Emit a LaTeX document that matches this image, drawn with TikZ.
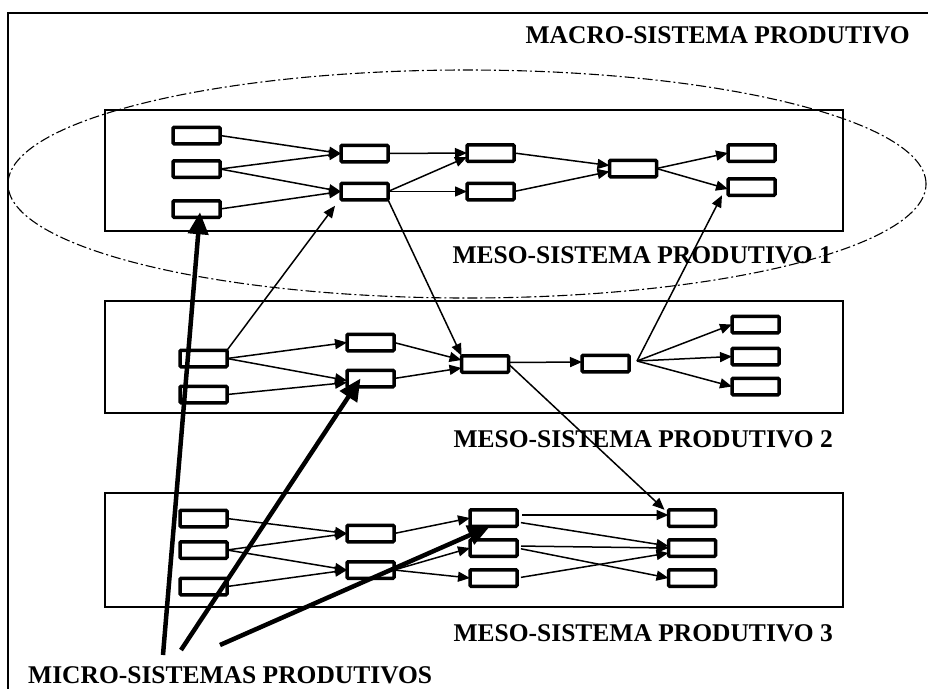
\documentclass[tikz,border=0pt]{standalone}
\usepackage{fontspec}
\setmainfont{Liberation Serif}
\usetikzlibrary{arrows.meta}
\begin{document}
\begin{tikzpicture}[x=1pt,y=-1pt,
  unit/.style={draw,line width=3.5pt,rounded corners=1pt,minimum width=47pt,
    minimum height=16.5pt,inner sep=0pt,outer sep=0pt},
  meso/.style={draw,line width=1.8pt},
  flow/.style={line width=1.5pt,-{Triangle[length=12pt,width=10pt]}},
  pointer/.style={line width=4.5pt,-{Triangle[length=22pt,width=20pt]}},
  title/.style={font=\fontsize{25.5}{30}\selectfont\bfseries,inner sep=0pt,anchor=base east},
  ]
\useasboundingbox (0,0) rectangle (928,688);

% outer frame of the macro system
\draw[line width=2pt] (8,690) -- (8,13) -- (930,13);

% meso-system panels
\draw[meso] (105,110) rectangle (843,231);
\draw[meso] (105,301) rectangle (843,413);
\draw[meso] (105,493) rectangle (843,607);

% dash-dot ellipse around meso-system 1
\draw[line width=1.1pt,dash pattern=on 10pt off 3pt on 2pt off 3pt]
  (467,184) ellipse [x radius=459pt, y radius=114pt];

% ---- meso-system 1 units
\node[unit] (A1) at (196.5,135.5) {};
\node[unit] (A2) at (196.5,169) {};
\node[unit] (A3) at (196.5,209) {};
\node[unit] (B1) at (364.5,153.5) {};
\node[unit] (B2) at (364.5,191.5) {};
\node[unit] (C1) at (490.5,153) {};
\node[unit] (C2) at (490.5,191.5) {};
\node[unit] (D)  at (633,168.5) {};
\node[unit] (E1) at (751.5,153) {};
\node[unit] (E2) at (751.5,187) {};

% ---- meso-system 2 units
\node[unit] (F1) at (203.5,358.5) {};
\node[unit] (F2) at (203.5,394.5) {};
\node[unit] (G1) at (370.5,342.5) {};
\node[unit] (G2) at (370.5,378.5) {};
\node[unit] (M)  at (485,364) {};
\node[unit] (P)  at (605.5,363.5) {};
\node[unit] (R1) at (755.5,324.5) {};
\node[unit] (R2) at (755.5,356.5) {};
\node[unit] (R3) at (755.5,386.5) {};
\coordinate (fork) at (637,361);

% ---- meso-system 3 units
\node[unit] (H1) at (203.5,518.5) {};
\node[unit] (H2) at (203.5,550) {};
\node[unit] (H3) at (203.5,586.5) {};
\node[unit] (I1) at (370.5,533.5) {};
\node[unit] (I2) at (370.5,570) {};
\node[unit] (J1) at (493.5,518) {};
\node[unit] (J2) at (493.5,548) {};
\node[unit] (J3) at (493.5,578) {};
\node[unit] (K1) at (692,518) {};
\node[unit] (K2) at (692,548) {};
\node[unit] (K3) at (692,578) {};

% ---- flows inside meso-system 1
\draw[flow] (A1.east) -- (B1.west);
\draw[flow] (A2.east) -- (B1.west);
\draw[flow] (A2.east) -- (B2.west);
\draw[flow] (A3.east) -- (B2.west);
\draw[flow] (B1.east) -- (C1.west);
\draw[flow] (B2.east) -- ([yshift=-4pt]C1.west);
\draw[flow] (B2.east) -- (C2.west);
\draw[flow] (C1.east) -- ([yshift=3pt]D.west);
\draw[flow] (C2.east) -- ([yshift=-3pt]D.west);
\draw[flow] (D.east) -- (E1.west);
\draw[flow] (D.east) -- ([yshift=-2pt]E2.west);

% ---- flows inside meso-system 2
\draw[flow] (F1.east) -- (G1.west);
\draw[flow] (F1.east) -- ([yshift=-2pt]G2.west);
\draw[flow] (F2.east) -- ([yshift=-4pt]G2.west);
\draw[flow] (G1.east) -- ([yshift=4pt]M.west);
\draw[flow] (G2.east) -- ([yshift=-4pt]M.west);
\draw[flow] ([yshift=1.5pt]M.east) -- ([yshift=1.5pt]P.west);
\draw[flow] (fork) -- (R1.west);
\draw[flow] (fork) -- (R2.west);
\draw[flow] (fork) -- (R3.west);

% ---- flows between meso-systems
\draw[flow] (F1.north east) -- ([xshift=-6pt,yshift=-6pt]B2.south west);
\draw[flow] (B2.south east) -- (M.north west);
\draw[flow] (fork) -- ([xshift=-6pt]E2.south west);
\draw[flow] (M.east) -- ([xshift=-4pt]K1.north west);

% ---- flows inside meso-system 3
\draw[flow] (H1.east) -- (I1.west);
\draw[flow] (H2.east) -- (I1.west);
\draw[flow] (H2.east) -- (I2.west);
\draw[flow] (H3.east) -- (I2.west);
\draw[flow] (I1.east) -- (J1.west);
\draw[flow] (I2.east) -- (J2.west);
\draw[flow] (I2.east) -- (J3.west);
\draw[flow,shorten <=5pt] ([yshift=3pt]J1.east) -- ([yshift=3pt]K1.west);
\draw[flow,shorten <=4pt] ([yshift=-4pt]J1.east) -- ([yshift=2pt]K2.west);
\draw[flow,shorten <=4pt] ([yshift=2pt]J2.east) -- (K2.west);
\draw[flow,shorten <=4pt] (J2.east) -- (K3.west);
\draw[flow,shorten <=4pt] (J3.east) -- ([yshift=-5pt]K2.west);

% ---- labels
\node[title] (macro) at (910,43) {MACRO-SISTEMA PRODUTIVO};
\node[title] (mesoa) at (832,263) {MESO-SISTEMA PRODUTIVO 1};
\node[title] (mesob) at (833,447) {MESO-SISTEMA PRODUTIVO 2};
\node[title] (mesoc) at (833,641) {MESO-SISTEMA PRODUTIVO 3};
\node[title,anchor=base west] (micro) at (28,683) {MICRO-SISTEMAS PRODUTIVOS};

% ---- pointers to the micro-systems
\coordinate (p1) at (163,655);
\coordinate (p2) at (181,650);
\coordinate (p3) at (220,645);
\draw[pointer] (p1) -- ([xshift=3.5pt,yshift=5pt]A3.south);
\draw[pointer] (p2) -- ([xshift=-10pt]G2.center);
\draw[pointer] (p3) -- ([xshift=-3.5pt]J1.south);
\end{tikzpicture}
\end{document}
